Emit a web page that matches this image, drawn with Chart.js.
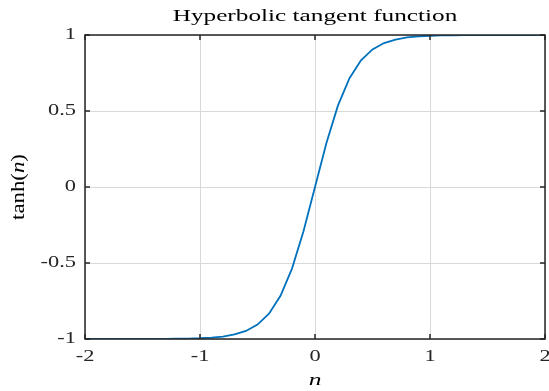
<!DOCTYPE html>
<html>
<head>
<meta charset="utf-8">
<script src="https://cdn.jsdelivr.net/npm/chart.js@4"></script>
<style>
  html, body { margin: 0; padding: 0; background: #fff; }
  #wrap { width: 549px; height: 391px; }
</style>
</head>
<body>
<div id="wrap"><canvas id="tanhChart" width="549" height="391"></canvas></div>
<script>
// ===== TANH CURVE =====
const nValues = [
    -2.0, -1.9, -1.8, -1.7, -1.6, -1.5, -1.4, -1.3, -1.2, -1.1,
    -1.0, -0.9, -0.8, -0.7, -0.6, -0.5, -0.4, -0.3, -0.2, -0.1,
     0.0,
     0.1,  0.2,  0.3,  0.4,  0.5,  0.6,  0.7,  0.8,  0.9,  1.0,
     1.1,  1.2,  1.3,  1.4,  1.5,  1.6,  1.7,  1.8,  1.9,  2.0
];
const tanhValues = [
    -1.000, -1.000, -1.000, -1.000, -1.000, -1.000, -0.9996, -0.999, -0.9985, -0.997,
    -0.995, -0.991, -0.984, -0.970, -0.947, -0.905, -0.834, -0.716, -0.537, -0.291,
     0.000,
     0.291,  0.537,  0.716,  0.834,  0.905,  0.947,  0.970,  0.984,  0.991,  0.995,
     0.997,  0.9985, 0.999,  0.9996, 1.000,  1.000,  1.000,  1.000,  1.000,  1.000
];
const xTicks = [-2, -1, 0, 1, 2];
const yTicks = [-1, -0.5, 0, 0.5, 1];
const xTickLabels = ["-2", "-1", "0", "1", "2"];
const yTickLabels = ["-1", "-0.5", "0", "0.5", "1"];

const titleText = "Hyperbolic tangent function";
const xLabel = "n";
const yLabelParts = [["tanh(", "normal"], ["n", "italic"], [")", "normal"]];

const serif = "'Liberation Serif', 'DejaVu Serif', serif";
const ink = "#262626";

// text drawn with a wide horizontal stretch, like the TeX fonts
function wideText(ctx, text, x, y, size, style, sx, align) {
    ctx.save();
    ctx.translate(x, y);
    ctx.scale(sx, 1);
    ctx.font = style + " " + size + "px " + serif;
    ctx.textAlign = align;
    ctx.textBaseline = "middle";
    ctx.fillText(text, 0, 0);
    ctx.restore();
}

// frame, inward ticks, tick labels and titles
const framePlugin = {
    id: "frame",
    afterDraw(chart) {
        const ctx = chart.ctx;
        const a = chart.chartArea;
        const xs = chart.scales.x, ys = chart.scales.y;
        const tick = 5;

        ctx.save();
        ctx.strokeStyle = ink;
        ctx.lineWidth = 1.5;
        ctx.strokeRect(a.left, a.top, a.right - a.left, a.bottom - a.top);

        ctx.beginPath();
        xTicks.forEach(v => {
            const px = xs.getPixelForValue(v);
            ctx.moveTo(px, a.bottom); ctx.lineTo(px, a.bottom - tick);
            ctx.moveTo(px, a.top); ctx.lineTo(px, a.top + tick);
        });
        yTicks.forEach(v => {
            const py = ys.getPixelForValue(v);
            ctx.moveTo(a.left, py); ctx.lineTo(a.left + tick, py);
            ctx.moveTo(a.right, py); ctx.lineTo(a.right - tick, py);
        });
        ctx.stroke();

        ctx.fillStyle = ink;
        xTicks.forEach((v, i) => {
            wideText(ctx, xTickLabels[i], xs.getPixelForValue(v), a.bottom + 18, 16, "normal", 1.4, "center");
        });
        yTicks.forEach((v, i) => {
            wideText(ctx, yTickLabels[i], a.left - 9, ys.getPixelForValue(v), 16, "normal", 1.4, "right");
        });

        ctx.fillStyle = "#000";
        wideText(ctx, titleText, (a.left + a.right) / 2, 17, 16.5, "normal", 1.53, "center");
        wideText(ctx, xLabel, (a.left + a.right) / 2, 381, 17, "italic", 1.5, "center");

        // y title, rotated, with italic n
        ctx.translate(19, (a.top + a.bottom) / 2);
        ctx.rotate(-Math.PI / 2);
        ctx.scale(1.2, 1);
        const size = 19;
        let total = 0;
        yLabelParts.forEach(([t, s]) => {
            ctx.font = s + " " + size + "px " + serif;
            total += ctx.measureText(t).width;
        });
        let x = -total / 2;
        ctx.textAlign = "left";
        ctx.textBaseline = "middle";
        yLabelParts.forEach(([t, s]) => {
            ctx.font = s + " " + size + "px " + serif;
            ctx.fillText(t, x, 0);
            x += ctx.measureText(t).width;
        });
        ctx.restore();
    }
};

new Chart(document.getElementById("tanhChart"), {
    type: "line",
    data: {
        datasets: [{
            data: nValues.map((n, i) => ({ x: n, y: tanhValues[i] })),
            borderColor: "#0072BD",
            borderWidth: 1.8,
            pointRadius: 0,
            fill: false,
            tension: 0
        }]
    },
    options: {
        responsive: false,
        animation: false,
        layout: { padding: { left: 0, right: 4, top: 35, bottom: 0 } },
        plugins: {
            legend: { display: false },
            tooltip: { enabled: false },
            title: { display: false }
        },
        scales: {
            x: {
                type: "linear",
                min: -2,
                max: 2,
                afterBuildTicks: s => { s.ticks = xTicks.map(v => ({ value: v })); },
                afterFit: s => { s.height = 52; },
                border: { display: false },
                grid: { color: "#d9d9d9", lineWidth: 1, drawTicks: false },
                ticks: { display: false }
            },
            y: {
                type: "linear",
                min: -1,
                max: 1,
                afterBuildTicks: s => { s.ticks = yTicks.map(v => ({ value: v })); },
                afterFit: s => { s.width = 85; },
                border: { display: false },
                grid: { color: "#d9d9d9", lineWidth: 1, drawTicks: false },
                ticks: { display: false }
            }
        }
    },
    plugins: [framePlugin]
});
</script>
</body>
</html>
